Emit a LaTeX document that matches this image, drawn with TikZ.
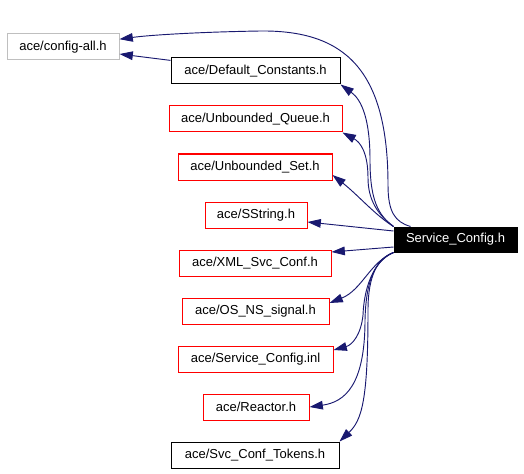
\documentclass[tikz,border=0pt]{standalone}
\usepackage{fontspec}
\setmainfont{Liberation Sans}
\usetikzlibrary{arrows.meta}
\definecolor{depblue}{RGB}{25,25,112}
\definecolor{boxgray}{RGB}{191,191,191}

\begin{document}
\begin{tikzpicture}[x=0.75pt,y=0.75pt,yscale=-1,xscale=1,
	hdr/.style={draw=red, line width=0.75pt, inner sep=0pt, minimum height=19.5pt, font=\fontsize{9.75pt}{11pt}\selectfont},
	dep/.style={draw=depblue, line width=0.7pt, -{Triangle[length=10pt,width=6.5pt]}}]
	%set diagram size 524 x 474
	\useasboundingbox (0,0) rectangle (524,474);
	
	% Text Node
	\node (cfg) [hdr, draw=boxgray, minimum width=84pt] at (63,47) {ace/config-all.h};
	% Text Node
	\node (dflt) [hdr, draw=black, minimum width=126.75pt] at (255.5,71) {ace/Default\_Constants.h};
	% Text Node
	\node (queue) [hdr, minimum width=129.75pt] at (255.5,119) {ace/Unbounded\_Queue.h};
	% Text Node
	\node (set) [hdr, minimum width=115.5pt] at (255,167) {ace/Unbounded\_Set.h};
	% Text Node
	\node (sstr) [hdr, minimum width=76.5pt] at (256,215) {ace/SString.h};
	% Text Node
	\node (svc) [hdr, draw=black, fill=black, text=white, minimum width=92.25pt, minimum height=18.75pt] at (455.5,239.5) {Service\_Config.h};
	% Text Node
	\node (xml) [hdr, minimum width=114pt] at (255,263) {ace/XML\_Svc\_Conf.h};
	% Text Node
	\node (sig) [hdr, minimum width=110.25pt] at (255.5,311) {ace/OS\_NS\_signal.h};
	% Text Node
	\node (inl) [hdr, minimum width=116.25pt] at (255.5,359) {ace/Service\_Config.inl};
	% Text Node
	\node (reac) [hdr, minimum width=79.5pt] at (256,407) {ace/Reactor.h};
	% Text Node
	\node (tok) [hdr, draw=black, minimum width=126pt] at (255,455) {ace/Svc\_Conf\_Tokens.h};
	
	%Curve Lines
	\draw [dep] (svc) .. controls (395,222) and (388,212) .. (388,185) .. controls (388,70) and (345,30) .. (260,31) .. controls (200,32) and (150,35) .. (cfg);
	%Straight Lines
	\draw [dep] (dflt) -- (cfg);
	%Curve Lines
	\draw [dep] (svc.north west) .. controls (378,215) and (370,200) .. (370,160) .. controls (370,120) and (362,100) .. (dflt.south east);
	\draw [dep] (svc.north west) .. controls (378,215) and (368,200) .. (368,178) .. controls (368,152) and (360,142) .. (queue.south east);
	\draw [dep] (svc.north west) .. controls (375,215) and (358,195) .. (set.east |- 0,175);
	%Straight Lines
	\draw [dep] (svc.west |- 0,231) -- (sstr.east |- 0,222);
	\draw [dep] (svc.west |- 0,247) -- (xml.east |- 0,252);
	%Curve Lines
	\draw [dep] (svc.south west) .. controls (370,262) and (362,290) .. (sig.east |- 0,303);
	\draw [dep] (svc.south west) .. controls (372,262) and (364,290) .. (363,315) .. controls (361,335) and (352,345) .. (inl.east |- 0,350);
	\draw [dep] (svc.south west) .. controls (375,260) and (366,280) .. (365,320) .. controls (365,385) and (345,402) .. (reac.east |- 0,407);
	\draw [dep] (svc.south west) .. controls (378,258) and (368,275) .. (368,310) .. controls (368,400) and (362,420) .. (tok.north east);
	
\end{tikzpicture}
\end{document}
